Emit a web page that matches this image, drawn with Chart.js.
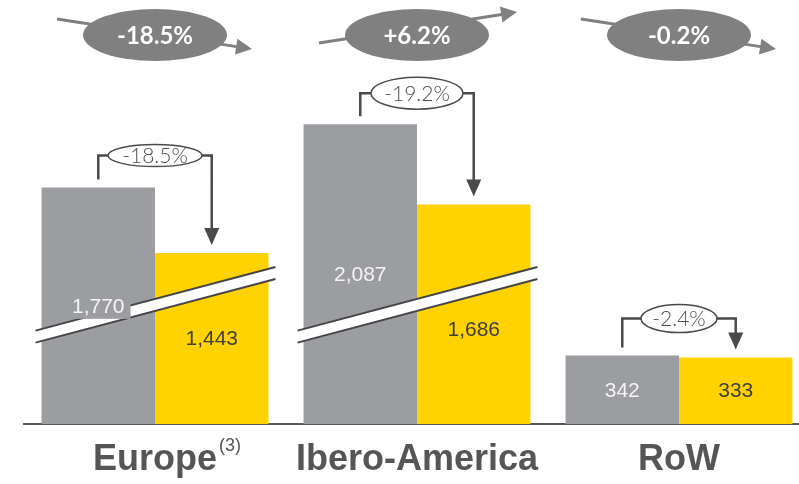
<!DOCTYPE html>
<html><head><meta charset="utf-8">
<script src="https://cdn.jsdelivr.net/npm/chart.js@4/dist/chart.umd.min.js"></script>
<style>
html,body{margin:0;padding:0;background:#fff;overflow:hidden;width:799px;height:484px}
#wrap{position:relative;width:810px;height:484px}
</style>
</head><body>
<div id="wrap"><canvas id="c" width="810" height="484"></canvas></div>
<script>
// ---- data ----
const categories = ['Europe', 'Ibero-America', 'RoW'];
const footnotes = ['(3)', '', ''];
const priorValues = [1770, 2087, 342];
const currentValues = [1443, 1686, 333];
const pairChange = [-18.5, -19.2, -2.4];
const trendChange = [-18.5, 6.2, -0.2];
const axisBreak = { start: 595, gap: 588 };

// ---- broken linear scale ----
function squeeze(v) {
  if (v <= axisBreak.start) return v;
  if (v >= axisBreak.start + axisBreak.gap) return v - axisBreak.gap;
  return axisBreak.start;
}
function unsqueeze(v) { return v <= axisBreak.start ? v : v + axisBreak.gap; }
class BrokenLinearScale extends Chart.LinearScale {
  getPixelForValue(v) { return super.getPixelForValue(squeeze(v)); }
  getValueForPixel(p) { return unsqueeze(super.getValueForPixel(p)); }
}
BrokenLinearScale.id = 'brokenLinear';
BrokenLinearScale.defaults = Chart.LinearScale.defaults;
Chart.register(BrokenLinearScale);

const GRAY = '#9c9da1', YELLOW = '#ffd200';
const fmtPct = v => (v > 0 ? '+' : '') + v.toFixed(1) + '%';

const overlay = {
  id: 'overlay',
  afterDatasetsDraw(chart, args, opts) {
    const ctx = chart.ctx, xs = chart.scales.x, ys = chart.scales.y;
    const m0 = chart.getDatasetMeta(0), m1 = chart.getDatasetMeta(1);
    const slope = -0.265, half = 6;
    categories.forEach((c, i) => {
      const b0 = m0.data[i], b1 = m1.data[i];
      const gx = xs.getPixelForValue(i);
      const bands = [];
      // axis break band
      const hi = axisBreak.start + axisBreak.gap;
      if (priorValues[i] >= hi || currentValues[i] >= hi) {
        const cy = ys.getPixelForValue(axisBreak.start);
        const L = b0.x - b0.width / 2 - 6, R = b1.x + b1.width / 2 + 7;
        const yAt = (x, off) => cy + off + (x - gx) * slope;
        ctx.save();
        ctx.fillStyle = '#fff';
        ctx.beginPath();
        ctx.moveTo(L, yAt(L, -half)); ctx.lineTo(R, yAt(R, -half));
        ctx.lineTo(R, yAt(R, half)); ctx.lineTo(L, yAt(L, half)); ctx.closePath();
        ctx.fill();
        ctx.strokeStyle = '#454545'; ctx.lineWidth = 2;
        ctx.beginPath();
        ctx.moveTo(L, yAt(L, -half)); ctx.lineTo(R, yAt(R, -half));
        ctx.moveTo(L, yAt(L, half)); ctx.lineTo(R, yAt(R, half));
        ctx.stroke();
        ctx.restore();
        bands.push({ L, R, yAt });
      }
      // value labels
      [[b0, priorValues[i], '#f4f4f4', GRAY, 0], [b1, currentValues[i], '#404040', YELLOW, 1]].forEach(([b, v, col, bg, d]) => {
        const shift = (opts.labelShift[i] || [0, 0])[d];
        const lx = b.x, ly = (b.y + b.base) / 2 + shift;
        const txt = v.toLocaleString('en-US');
        ctx.save();
        ctx.font = '21px "Liberation Sans", Arial, sans-serif';
        const w = ctx.measureText(txt).width;
        let overlap = false;
        bands.forEach(bd => {
          const yTop = Math.min(bd.yAt(lx - w / 2, -half), bd.yAt(lx + w / 2, -half));
          const yBot = Math.max(bd.yAt(lx - w / 2, half), bd.yAt(lx + w / 2, half));
          if (ly + 8 > yTop && ly - 8 < yBot) overlap = true;
        });
        if (overlap) {
          ctx.fillStyle = bg;
          ctx.fillRect(lx - w / 2 - 2, ly - 11, w + 8, 24);
        }
        ctx.fillStyle = col; ctx.textAlign = 'center'; ctx.textBaseline = 'middle';
        ctx.fillText(txt, lx, ly + 1);
        ctx.restore();
      });
      // bracket with change
      const rise = opts.bracketRise[i], [rx, ry] = opts.bracketEllipse[i];
      const xL = b0.x, xR = b1.x, tL = b0.y, tR = b1.y;
      const by = Math.min(tL, tR) - rise;
      const cx = (xL + xR) / 2;
      const tip = tR - 8, hl = 17, hw = 7.5;
      ctx.save();
      ctx.strokeStyle = '#4a4a4a'; ctx.fillStyle = '#4a4a4a'; ctx.lineWidth = 2.5;
      ctx.beginPath();
      ctx.moveTo(xL, tL - 8); ctx.lineTo(xL, by); ctx.lineTo(cx - rx, by);
      ctx.moveTo(cx + rx, by); ctx.lineTo(xR, by); ctx.lineTo(xR, tip - hl + 1);
      ctx.stroke();
      ctx.beginPath();
      ctx.moveTo(xR - hw, tip - hl); ctx.lineTo(xR + hw, tip - hl); ctx.lineTo(xR, tip); ctx.closePath();
      ctx.fill();
      ctx.lineWidth = 1.5; ctx.fillStyle = '#fff';
      ctx.beginPath(); ctx.ellipse(cx, by, rx, ry, 0, 0, Math.PI * 2); ctx.fill(); ctx.stroke();
      ctx.fillStyle = '#505050';
      ctx.font = '300 21px Lato, "Open Sans", sans-serif';
      ctx.textAlign = 'center'; ctx.textBaseline = 'middle';
      ctx.fillText(fmtPct(pairChange[i]), cx, by + 1);
      ctx.restore();
      // top trend arrow + ellipse
      const up = trendChange[i] > 0;
      const x1 = gx - 98, x2 = gx + (up ? 100 : 97);
      const y1 = up ? 43 : 19, y2 = up ? 12 : 49;
      const ang = Math.atan2(y2 - y1, x2 - x1);
      ctx.save();
      ctx.strokeStyle = '#808080'; ctx.fillStyle = '#808080'; ctx.lineWidth = 3;
      ctx.beginPath(); ctx.moveTo(x1, y1);
      ctx.lineTo(x2 - 14 * Math.cos(ang), y2 - 14 * Math.sin(ang)); ctx.stroke();
      ctx.beginPath();
      ctx.moveTo(x2, y2);
      ctx.lineTo(x2 - 16 * Math.cos(ang) + 8 * Math.sin(ang), y2 - 16 * Math.sin(ang) - 8 * Math.cos(ang));
      ctx.lineTo(x2 - 16 * Math.cos(ang) - 8 * Math.sin(ang), y2 - 16 * Math.sin(ang) + 8 * Math.cos(ang));
      ctx.closePath(); ctx.fill();
      ctx.beginPath(); ctx.ellipse(gx, 35, 72, 26, 0, 0, Math.PI * 2); ctx.fill();
      ctx.fillStyle = '#fff';
      ctx.font = 'bold 24px Lato, "Open Sans", sans-serif';
      ctx.textAlign = 'center'; ctx.textBaseline = 'middle';
      ctx.fillText(fmtPct(trendChange[i]), gx, 36);
      ctx.restore();
      // footnote superscript
      if (footnotes[i]) {
        ctx.save();
        ctx.font = 'bold 36px "Liberation Sans", Arial, sans-serif';
        const lw = ctx.measureText(c).width;
        ctx.font = '18px "Liberation Sans", Arial, sans-serif';
        ctx.fillStyle = '#555'; ctx.textAlign = 'left'; ctx.textBaseline = 'alphabetic';
        ctx.fillText(footnotes[i], gx + lw / 2 + 2, 451);
        ctx.restore();
      }
    });
  }
};

new Chart(document.getElementById('c'), {
  type: 'bar',
  data: {
    labels: categories,
    datasets: [
      { label: 'Prior', data: priorValues, backgroundColor: GRAY, categoryPercentage: 0.866, barPercentage: 1 },
      { label: 'Current', data: currentValues, backgroundColor: YELLOW, categoryPercentage: 0.866, barPercentage: 1 }
    ]
  },
  options: {
    responsive: false, animation: false, devicePixelRatio: 1,
    layout: { padding: { left: 24, right: 0, top: 0, bottom: 0 } },
    plugins: {
      legend: { display: false }, tooltip: { enabled: false },
      overlay: {
        labelShift: [[0, 0], [0, 15], [0, 0]],
        bracketRise: [32, 31, 37],
        bracketEllipse: [[47, 11], [46, 16], [38, 14]]
      }
    },
    scales: {
      x: {
        grid: { display: false, drawTicks: false },
        border: { display: true, color: '#595959', width: 2 },
        ticks: {
          font: { family: '"Liberation Sans", Arial, sans-serif', size: 36, weight: 'bold' },
          color: '#555555', padding: 14, maxRotation: 0, autoSkip: false
        },
        afterFit(s) { s.height = 60; }
      },
      y: { type: 'brokenLinear', display: false, min: 0, max: 2120 }
    }
  },
  plugins: [overlay]
});
</script>
</body></html>
